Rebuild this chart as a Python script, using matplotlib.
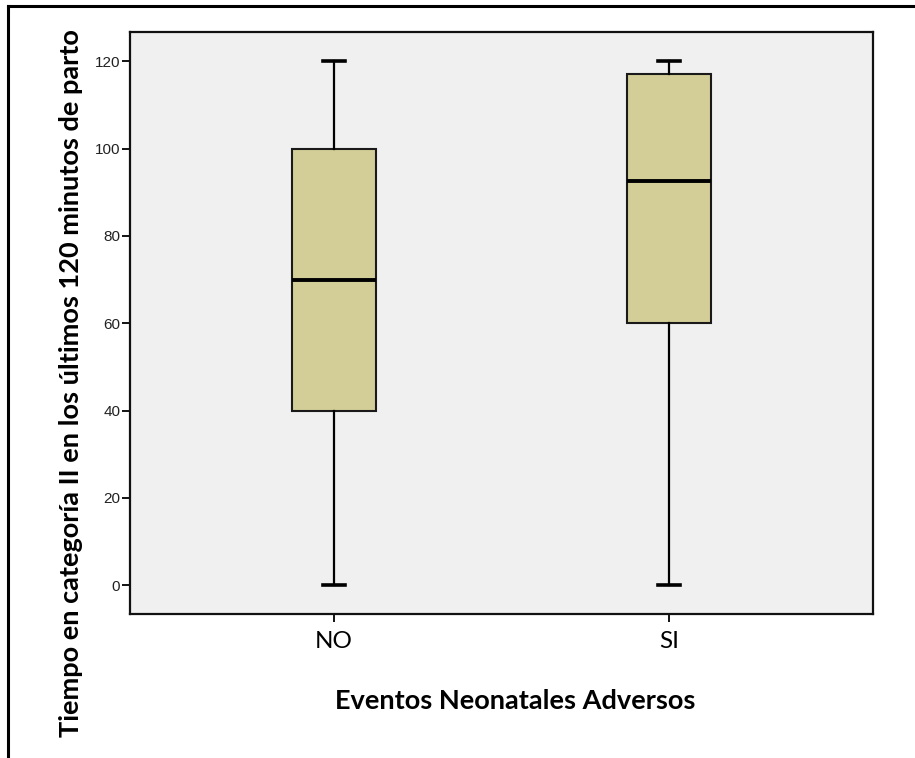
import matplotlib
matplotlib.use("Agg")
import matplotlib.pyplot as plt
from matplotlib.lines import Line2D

# datos del boxplot
categorias = ["NO", "SI"]
minimos = [0, 0]
q1 = [40, 60]
medianas = [70, 92.5]
q3 = [100, 117]
maximos = [120, 120]
yticks = [0, 20, 40, 60, 80, 100, 120]

fig = plt.figure(figsize=(9.15, 7.58), dpi=100)
ax = fig.add_axes([0.1421, 0.1900, 0.8120, 0.7678])
ax.set_facecolor("#F0F0F0")

stats = []
for i, cat in enumerate(categorias):
    stats.append(dict(label=cat, whislo=minimos[i], q1=q1[i], med=medianas[i],
                      q3=q3[i], whishi=maximos[i], fliers=[]))

ax.bxp(stats, positions=[1, 2], widths=0.25, capwidths=0.063, patch_artist=True,
       showfliers=False,
       boxprops=dict(facecolor="#D3CE97", edgecolor="#1a1a1a", linewidth=1.5),
       medianprops=dict(color="black", linewidth=2.8),
       whiskerprops=dict(color="black", linewidth=1.6),
       capprops=dict(color="black", linewidth=2.6))

ax.set_xlim(0.391, 2.609)
ax.set_ylim(-6.6, 126.7)
ax.set_yticks(yticks)
ax.set_yticklabels([str(v) for v in yticks], family="Liberation Sans", fontsize=11, color="#222222")
ax.set_xticks([1, 2])
ax.set_xticklabels(categorias, family="Lato", fontsize=17.5)
ax.tick_params(axis="both", length=6, width=1.3, color="black", direction="out")
ax.tick_params(axis="y", pad=1)
ax.tick_params(axis="x", pad=6)
for s in ax.spines.values():
    s.set_linewidth(1.6)
    s.set_color("#111111")

# titulos de los ejes
fig.text(515 / 915, 1 - 701 / 758, "Eventos Neonatales Adversos", family="Lato",
         fontweight="bold", fontsize=19.5, ha="center", va="center")
fig.text(71 / 915, 1 - 383 / 758, "Tiempo en categoría II en los últimos 120 minutos de parto",
         family="Lato", fontweight="bold", fontsize=19.5, ha="center", va="center", rotation=90)

# marco exterior (arriba e izquierda)
fig.add_artist(Line2D([8 / 915, 1], [1 - 6 / 758, 1 - 6 / 758], transform=fig.transFigure,
                      color="black", linewidth=2.2))
fig.add_artist(Line2D([8 / 915, 8 / 915], [0, 1 - 6 / 758], transform=fig.transFigure,
                      color="black", linewidth=2.2))

fig.savefig("out.png", dpi=100)
